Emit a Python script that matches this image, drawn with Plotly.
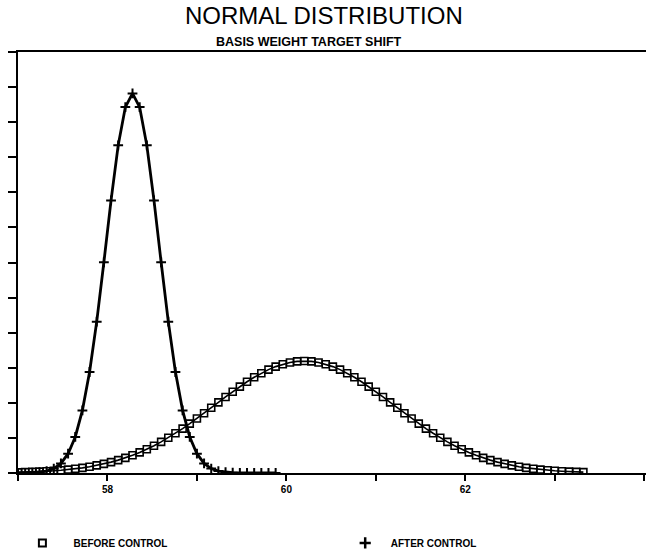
import plotly.graph_objects as go

# ---- data ----
before_x = [round(57.00 + 0.08 * i, 2) for i in range(80)]
before_y = [
    0.0024, 0.0031, 0.0039, 0.0050, 0.0063, 0.0079, 0.0099, 0.0122, 0.0151, 0.0184,
    0.0224, 0.0271, 0.0325, 0.0387, 0.0459, 0.0540, 0.0632, 0.0734, 0.0848, 0.0973,
    0.1109, 0.1257, 0.1415, 0.1582, 0.1759, 0.1942, 0.2131, 0.2323, 0.2516, 0.2709,
    0.2897, 0.3079, 0.3251, 0.3410, 0.3555, 0.3683, 0.3790, 0.3876, 0.3939, 0.3977,
    0.3989, 0.3977, 0.3939, 0.3876, 0.3790, 0.3683, 0.3555, 0.3410, 0.3251, 0.3079,
    0.2897, 0.2709, 0.2516, 0.2323, 0.2131, 0.1942, 0.1759, 0.1582, 0.1415, 0.1257,
    0.1109, 0.0973, 0.0848, 0.0734, 0.0632, 0.0540, 0.0459, 0.0387, 0.0325, 0.0271,
    0.0224, 0.0184, 0.0151, 0.0122, 0.0099, 0.0079, 0.0063, 0.0050, 0.0039, 0.0031,
]

after_x = [round(57.00 + 0.08 * i, 2) for i in range(37)]
after_y = [
    0.0001, 0.0003, 0.0010, 0.0027, 0.0068, 0.0158, 0.0342, 0.0688, 0.1285, 0.2231,
    0.3599, 0.5393, 0.7509, 0.9713, 1.1674, 1.3036, 1.3524, 1.3036, 1.1674, 0.9713,
    0.7509, 0.5393, 0.3599, 0.2231, 0.1285, 0.0688, 0.0342, 0.0158, 0.0068, 0.0027,
    0.0010, 0.0003, 0.0001, 0.0000, 0.0000, 0.0000, 0.0000,
]

x_tick_vals = [57, 58, 59, 60, 61, 62, 63, 64]
x_tick_text = ["", "58", "", "60", "", "62", "", ""]
y_tick_vals = [i * 0.125 for i in range(13)]

title_text = "NORMAL DISTRIBUTION"
subtitle_text = "BASIS WEIGHT TARGET SHIFT"
before_name = "BEFORE CONTROL"
after_name = "AFTER CONTROL"

FONT = "Liberation Sans, Arial, sans-serif"
NBSP = "\u00a0"

fig = go.Figure()

fig.add_trace(go.Scatter(
    x=before_x, y=before_y, mode="lines+markers", showlegend=False,
    line=dict(color="black", width=1.6),
    marker=dict(symbol="square-open", size=7, color="black", line=dict(width=1.6)),
))
fig.add_trace(go.Scatter(
    x=after_x, y=after_y, mode="lines+markers", showlegend=False,
    line=dict(color="black", width=2.8),
    marker=dict(symbol="cross-thin-open", size=7, color="black", line=dict(width=2, color="black")),
))

# legend-only entries (markers without lines, as in the reference)
fig.add_trace(go.Scatter(
    x=[None], y=[None], mode="markers", name=NBSP * 4 + before_name, legend="legend",
    marker=dict(symbol="square-open", size=7, color="black", line=dict(width=2)),
))
fig.add_trace(go.Scatter(
    x=[None], y=[None], mode="markers", name=NBSP * 2 + after_name, legend="legend2",
    marker=dict(symbol="cross-thin-open", size=8, color="black", line=dict(width=2.5, color="black")),
))

legend_font = dict(size=10, family=FONT, color="black", weight="bold")

fig.update_layout(
    width=646, height=552,
    margin=dict(l=18, r=0, t=52, b=79, autoexpand=False),
    paper_bgcolor="white", plot_bgcolor="white",
    font=dict(family=FONT, color="black"),
    title=dict(text=title_text, x=0.487, xanchor="center", xref="paper",
               y=1 - 16 / 552, yref="container", yanchor="middle",
               font=dict(size=24, family=FONT, color="black")),
    showlegend=True,
    legend=dict(orientation="h", x=0.007, xanchor="left", y=-0.166, yanchor="middle",
                font=legend_font, bgcolor="rgba(0,0,0,0)"),
    legend2=dict(orientation="h", x=0.521, xanchor="left", y=-0.166, yanchor="middle",
                 font=legend_font, bgcolor="rgba(0,0,0,0)"),
    annotations=[dict(text="<b>" + subtitle_text + "</b>", xref="paper", yref="paper",
                      x=0.463, y=1 + 10 / 421, xanchor="center", yanchor="middle",
                      showarrow=False, font=dict(size=12.5, family=FONT, color="black"))],
)

fig.update_xaxes(
    range=[57, 64.02], showgrid=False, zeroline=False, automargin=False,
    showline=True, linecolor="black", linewidth=2, mirror=True,
    ticks="outside", ticklen=6, tickwidth=2, tickcolor="black",
    tickvals=x_tick_vals, ticktext=x_tick_text,
    tickfont=dict(size=10, family=FONT, color="black", weight="bold"),
)
fig.update_yaxes(
    range=[0, 1.5], showgrid=False, zeroline=False, automargin=False,
    showline=True, linecolor="black", linewidth=2, mirror=False,
    ticks="outside", ticklen=8, tickwidth=2, tickcolor="black",
    tickvals=y_tick_vals, showticklabels=False,
)

fig.write_html(
    "out.html",
    config={"displayModeBar": False},
    post_script="document.body.style.margin='0';document.body.style.overflow='hidden';",
)
